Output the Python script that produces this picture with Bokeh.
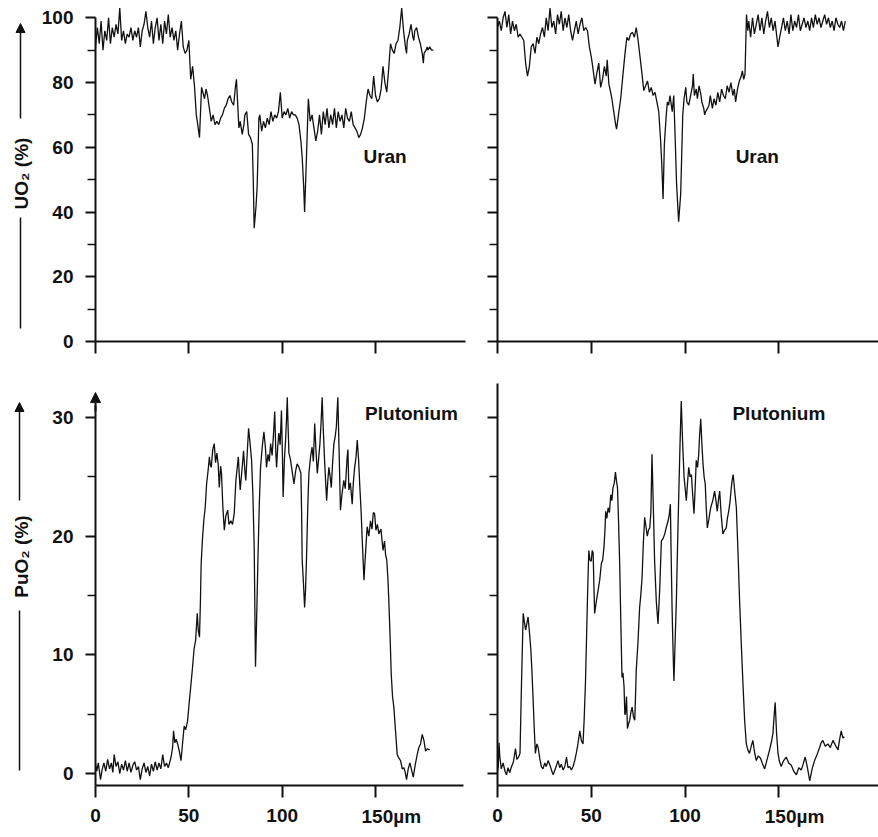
from bokeh.plotting import figure
from bokeh.layouts import gridplot
from bokeh.models import Range1d, FixedTicker, Label, Arrow, NormalHead
from bokeh.embed import file_html
from bokeh.resources import INLINE

# ---------------- data ----------------
# (position in µm, UO2 %) – upper left profile
uran_left = [
    (0, 91), (1, 97), (2, 92), (3, 99), (4, 90), (5, 96), (6, 93), (7, 100), (8, 92), (9, 97),
    (10, 94), (11, 98), (12, 95), (13, 103), (14, 93), (15, 96), (16, 92), (17, 95), (18, 94),
    (19, 97), (20, 93), (21, 96), (22, 94), (23, 97), (24, 91), (25, 96), (26, 98), (27, 102),
    (28, 97), (29, 94), (30, 99), (31, 92), (32, 97), (33, 100), (34, 93), (35, 98), (36, 92),
    (37, 99), (38, 95), (39, 101), (40, 94), (41, 97), (42, 93), (43, 96), (44, 90), (45, 95),
    (46, 99), (47, 91), (48, 89), (49, 90), (50, 93), (51, 81), (52, 85), (53, 79), (54, 70),
    (55, 66), (55.7, 63), (56.8, 78.5), (57.5, 77), (58.4, 75), (59.2, 78), (60, 76), (61, 72),
    (62, 68), (63, 70), (64, 67), (65, 68), (66, 67), (67, 69), (68, 70), (69, 72), (70, 73),
    (71, 75), (72, 76), (73, 74), (74, 73), (75, 79), (75.5, 81), (76.8, 66), (77.5, 68),
    (78.6, 64), (79.5, 67), (80, 70), (81, 71), (82, 64), (83, 63), (84, 61), (84.5, 50),
    (85, 35), (86, 42), (86.6, 48), (87.5, 69), (88, 70), (89, 65), (90, 68), (91, 66), (92, 69),
    (93, 67), (94, 71), (95, 68), (96, 70), (97, 69), (98, 71), (99, 77), (100, 69), (101, 71),
    (102, 70), (103, 72), (104, 69), (105, 71), (106, 70), (107, 70), (108, 69), (109, 67),
    (110, 62), (110.7, 57), (111.5, 48), (112, 40), (113, 57), (114, 75), (115, 68), (116, 70),
    (117, 66), (118, 62), (119, 65), (120, 70), (121, 64), (122, 71), (123, 67), (124, 72),
    (125, 66), (126, 70), (127, 67), (128, 72), (129, 66), (130, 71), (131, 68), (132, 70),
    (133, 66), (134, 72), (135, 69), (136, 68), (137, 71), (138, 67), (139, 66), (140, 65),
    (141, 63), (142, 64), (143, 66), (144, 69), (145, 74), (146, 78), (147, 76), (148, 75),
    (149, 82), (150, 76), (151, 74), (152, 75), (153, 78), (154, 85), (155, 80), (156, 77),
    (157, 84), (158, 92), (159, 90), (160, 89), (161, 92), (162, 93), (163, 97), (164, 103),
    (165, 96), (166, 91), (166.6, 89), (167, 93), (168, 95), (169, 98), (170, 94), (170.5, 93),
    (171, 96), (172, 97), (173, 94), (174, 92), (175, 89), (175.6, 86), (176, 89), (177, 90),
    (177.7, 91), (178, 90), (179, 91), (180, 90), (181, 90),
]

# (position in µm, UO2 %) – upper right profile
uran_right = [
    (0, 97), (1, 99), (2, 96), (3, 100), (4, 102), (5, 97), (6, 101), (7, 95), (8, 99), (9, 96),
    (10, 98), (11, 94), (12, 95), (13, 94), (14, 93), (15, 86), (16, 82), (17, 85), (18, 91),
    (19, 92), (20, 89), (21, 94), (22, 92), (23, 95), (24, 97), (25, 94), (26, 100), (27, 96),
    (28, 103), (29, 97), (30, 99), (31, 95), (32, 101), (33, 98), (34, 102), (35, 96), (36, 100),
    (37, 97), (38, 101), (39, 96), (40, 93), (41, 96), (42, 99), (43, 95), (44, 98), (45, 100),
    (46, 96), (47, 97), (48, 96), (49, 91), (50, 88), (51, 84), (52, 79.5), (53, 83), (54, 86),
    (55, 78.5), (56, 81), (57, 85), (58, 82), (58.5, 87), (59.4, 79.5), (60, 78), (61, 75),
    (62, 71), (63, 67), (63.5, 65.6), (64.5, 70), (65.7, 75), (67, 83), (68, 89), (69, 94),
    (70, 93), (71, 95), (72, 95.5), (73, 94), (74, 97), (75, 93), (76, 88), (77, 83), (78, 77.5),
    (79, 79), (80, 80.5), (81, 77), (82, 78.5), (83, 76), (84, 77), (85, 74), (86, 71), (87, 62),
    (87.6, 55), (88.3, 44), (89, 61), (90, 70), (90.6, 74), (91.3, 73), (92, 76), (93.2, 71),
    (94, 76), (94.8, 62), (95.5, 48.7), (96.6, 37), (97.7, 45.6), (98.8, 70), (99.5, 75),
    (100.4, 78.5), (101, 74), (102, 73), (103, 76), (104, 79), (104.4, 82.6), (105, 76),
    (106, 78), (106.6, 75), (107.5, 79), (108.4, 76.5), (109, 74), (110, 72), (110.5, 70),
    (111, 71), (112, 72), (112.8, 73), (113.5, 76), (114.6, 72), (115.5, 75), (116.5, 73),
    (117.5, 77), (118.5, 74), (119.5, 78), (120.5, 76), (121.5, 75), (122.5, 79), (123.5, 77),
    (124.5, 80), (125.5, 76), (126.3, 78), (127, 74), (128, 78), (129, 80.5), (130, 82),
    (130.6, 83.6), (131.3, 81), (132, 82.6), (132.8, 101), (133.5, 96), (134, 99), (135, 94),
    (136, 100), (137, 95), (138, 98), (139, 101), (140, 96), (141, 100), (142, 95), (143, 99),
    (144, 102), (145, 97), (146, 100), (147, 96), (148, 99), (149, 94), (149.6, 91), (150.5, 94),
    (151.5, 97), (152.5, 100), (153.5, 96), (154.5, 99), (155.5, 95), (156.5, 101), (157.5, 96),
    (158.5, 99), (159.5, 97), (160.5, 101), (161.5, 96), (162.5, 98), (163.5, 100), (164.5, 97),
    (165.5, 99), (166.5, 96), (167.5, 100), (168.5, 97), (169.5, 101), (170.5, 98), (171.5, 100),
    (172.5, 97), (173.5, 99), (174.5, 101), (175.5, 98), (176.5, 100), (177.5, 97), (178.5, 99),
    (179.5, 96), (180.5, 100), (181.5, 98), (182.5, 97), (183.5, 99), (184.5, 96), (185.5, 99),
]

# (position in µm, PuO2 %) – lower left profile
pluto_left = [
    (0, 0.8), (0.7, 0.2), (1.5, 0.9), (2.7, -0.5), (3.5, 0.3), (4.5, 0.9), (5.5, 0.2), (6.5, 1.2),
    (7.5, 0.4), (8.5, 0.9), (9.3, 0.1), (10, 1.6), (11, 0.6), (12, 1.0), (13, 0.0), (14, 0.8),
    (15, 0.3), (16, 1.1), (17, 0.2), (18, 0.9), (19, 0.1), (20, 0.7), (21, 1.0), (22, 0.3),
    (23, 0.6), (24, -0.5), (25, 0.4), (26, 0.9), (27, 0.1), (28, 0.6), (29, -0.2), (30, 0.8),
    (31, 0.2), (32, 1.0), (33, 0.3), (34, 0.9), (35, 0.4), (36, 1.6), (37, 0.6), (38, 0.9),
    (39, 0.5), (39.5, 0.8), (40.5, 1.4), (41.3, 2.2), (41.8, 3.6), (42.5, 2.6), (43.2, 2.9),
    (44, 2.5), (45, 1.8), (45.8, 1.1), (46.6, 2.5), (47.5, 4.0), (48.3, 3.7), (49.3, 4.4),
    (50.2, 6.0), (51, 7.3), (52, 9.0), (52.8, 10.5), (53.6, 11.2), (54.5, 13.5), (55.1, 12.0),
    (55.7, 11.5), (56.2, 14.5), (56.6, 17.7), (57.3, 19.8), (58, 21.3), (58.8, 22.5), (59.5, 24.4),
    (60.3, 25.5), (61, 26.7), (61.5, 26.0), (62, 25.8), (62.8, 27.3), (63.6, 27.8), (64.3, 26.2),
    (65, 27.0), (65.7, 26.1), (66.3, 24.1), (67, 25.9), (67.5, 25.3), (68.2, 22.5), (69, 20.5),
    (69.8, 21.7), (70.8, 22.2), (71.5, 21.0), (72.5, 21.3), (73.4, 21.0), (74.3, 21.9),
    (75.2, 24.7), (75.8, 25.6), (76.5, 26.7), (77, 25.2), (77.5, 23.9), (78.4, 25.5), (79.3, 27.2),
    (80, 25.5), (80.5, 24.7), (81.2, 26.8), (82, 29.1), (82.8, 27.8), (83.6, 26.4), (84.3, 23.5),
    (85, 19.1), (85.7, 9.0), (86.3, 13.0), (87, 18.0), (87.7, 22.5), (88.4, 25.8), (89.3, 27.5),
    (90.2, 28.8), (91, 27.5), (91.6, 25.8), (92.4, 26.9), (93.1, 26.3), (93.8, 27.8), (94.6, 26.8),
    (95.3, 28.5), (96, 30.5), (96.6, 27.0), (97, 25.8), (97.6, 27.5), (98.2, 28.7), (98.9, 27.7),
    (99.6, 30.6), (100.1, 27.0), (100.5, 23.3), (101.2, 26.5), (101.8, 28.1), (102.3, 29.8),
    (102.7, 31.7), (103.2, 29.0), (103.6, 27.0), (104.4, 26.5), (105.3, 25.5), (106.3, 24.4),
    (107.2, 25.5), (108, 26.1), (109, 25.8), (110, 25.3), (110.4, 22.0), (110.7, 18.0),
    (111.4, 16.0), (112, 14.0), (112.5, 15.5), (113, 18.0), (113.7, 22.5), (114.3, 25.3),
    (115.2, 26.7), (116, 27.5), (116.7, 26.3), (117.4, 29.5), (118.1, 27.2), (118.8, 25.3),
    (119.5, 26.5), (120.2, 27.8), (120.8, 29.5), (121.4, 31.7), (122, 29.0), (122.7, 26.4),
    (123.3, 24.5), (123.8, 23.0), (124.4, 24.6), (125, 25.8), (125.7, 25.0), (126.3, 24.1),
    (127, 26.2), (127.7, 27.8), (128.3, 28.3), (129, 29.2), (129.4, 30.5), (129.8, 31.7),
    (130.5, 27.0), (131.2, 22.2), (132, 23.5), (133, 24.7), (133.8, 24.0), (134.8, 26.7),
    (135.2, 27.3), (135.7, 23.9), (136.5, 24.5), (137.5, 22.7), (138.1, 24.5), (138.8, 25.8),
    (139.5, 26.6), (140.2, 28.1), (140.9, 26.5), (141.6, 24.1), (142.3, 22.0), (142.9, 19.6),
    (143.8, 16.3), (144.6, 18.5), (145.5, 20.8), (146.4, 20.0), (147.3, 21.3), (148.1, 20.6),
    (148.8, 22.0), (149.5, 21.9), (150.2, 20.5), (151, 21.0), (151.8, 20.2), (152.9, 20.6),
    (154, 18.8), (154.8, 19.6), (155.4, 18.4), (156, 18.0), (156.6, 16.5), (157.1, 14.6),
    (157.8, 11.5), (158.4, 8.4), (159.1, 6.5), (159.8, 5.6), (160.7, 3.6), (161.6, 1.6),
    (162.5, 1.3), (163.4, 1.1), (164.3, 0.4), (165.2, 0.5), (165.9, 0.1), (166.6, -0.5),
    (167.5, 0.4), (168.4, 0.9), (169.3, 0.3), (170.2, -0.3), (171.2, 0.7), (172.3, 1.6),
    (173.2, 2.2), (174.1, 2.5), (175, 3.3), (175.9, 2.8), (176.8, 1.9), (177.8, 2.1), (179, 2.0),
]

# (position in µm, PuO2 %) – lower right profile
pluto_right = [
    (0, 0.2), (0.4, 0.6), (0.8, 2.6), (1.2, 1.5), (2, 0.4), (3, 0.9), (4, 0.2), (4.8, -0.1),
    (5.6, 0.5), (6.5, 0.1), (7.5, 0.6), (8.5, 1.0), (9.6, 2.1), (10.3, 1.2), (11.2, 1.4),
    (12, 1.7), (12.8, 7.6), (13.7, 13.5), (14.3, 12.8), (15, 12.1), (15.6, 12.6), (16.3, 13.2),
    (17, 12.0), (17.8, 10.4), (18.4, 8.5), (19, 6.2), (19.6, 3.8), (20.2, 1.7), (21, 2.5),
    (21.7, 2.2), (22.5, 1.3), (23.4, 0.6), (24.3, 0.4), (25.2, 0.9), (26, 0.6), (27, 1.1),
    (28, 0.7), (29, 0.2), (29.7, -0.1), (30.6, 0.3), (31.5, 0.7), (32.3, 1.1), (33.2, 0.5),
    (34, 0.8), (35, 0.3), (35.9, 0.6), (36.8, 1.4), (37.6, 0.5), (38.5, 0.6), (39.4, 0.3),
    (40.3, 0.6), (41.2, 1.1), (42, 1.7), (42.8, 2.4), (43.9, 3.6), (44.7, 2.8), (45.6, 2.5),
    (46.2, 4.5), (46.9, 7.6), (47.5, 11.5), (48.1, 15.5), (48.7, 18.8), (49.3, 18.0), (50, 17.9),
    (50.5, 18.8), (51, 18.6), (51.4, 16.0), (51.8, 13.5), (52.7, 14.5), (53.6, 15.4), (54.5, 16.3),
    (55.4, 17.7), (56.1, 18.0), (56.8, 19.1), (57.3, 20.5), (57.7, 22.1), (58.3, 21.5), (59, 22.4),
    (59.7, 22.0), (60.4, 23.5), (61, 23.0), (61.6, 24.1), (62.3, 24.5), (62.9, 25.4), (63.5, 24.6),
    (64, 24.1), (64.6, 21.0), (65.2, 17.4), (65.8, 12.5), (66.4, 8.1), (66.9, 8.5), (67.5, 7.3),
    (67.9, 5.0), (68.2, 5.0), (68.8, 6.5), (69.3, 3.8), (69.9, 4.2), (70.5, 4.5), (71.2, 5.2),
    (71.8, 5.6), (72.5, 4.8), (73.2, 4.5), (73.6, 6.5), (74, 8.7), (74.9, 11.0), (75.8, 14.0),
    (76.4, 15.0), (77.1, 16.5), (77.8, 19.5), (78.5, 21.6), (79.2, 20.8), (79.9, 20.0),
    (80.5, 20.5), (81.2, 20.7), (81.8, 22.0), (82.4, 26.9), (83.1, 22.5), (83.8, 17.9),
    (84.7, 14.5), (85.6, 12.6), (86.5, 15.5), (87.4, 19.6), (88.3, 19.8), (89.2, 20.2),
    (90.1, 20.8), (91, 21.3), (91.6, 21.8), (92.2, 22.7), (92.6, 18.5), (93.1, 14.0), (93.6, 10.5),
    (94.1, 7.8), (94.7, 11.0), (95.4, 14.6), (96, 19.0), (96.6, 23.0), (97.3, 27.5), (98, 31.4),
    (98.7, 28.0), (99.5, 25.0), (100.1, 24.0), (100.7, 23.0), (101.4, 24.6), (102, 25.8),
    (102.7, 25.0), (103.4, 25.2), (104.1, 23.5), (104.8, 21.9), (105.4, 24.0), (106, 26.4),
    (106.7, 25.8), (107.3, 26.9), (107.8, 28.5), (108.4, 29.9), (109, 27.8), (109.6, 26.1),
    (110.2, 25.0), (110.8, 24.4), (111.3, 22.5), (111.9, 20.7), (112.8, 21.5), (113.7, 22.4),
    (114.8, 23.0), (115.8, 23.8), (116.5, 23.0), (117.2, 22.1), (117.8, 23.0), (118.5, 23.8),
    (119.3, 21.8), (120.2, 20.2), (121.1, 20.5), (122, 20.7), (122.6, 21.5), (123.3, 22.1),
    (124, 22.9), (124.7, 24.1), (125.2, 24.8), (125.7, 25.2), (126.5, 23.8), (127.4, 22.4),
    (128.3, 18.5), (129.1, 14.6), (130, 11.0), (130.9, 7.6), (131.8, 4.5), (132.7, 2.5),
    (133.5, 2.0), (134.4, 1.7), (135.3, 2.3), (136.2, 2.8), (137.1, 1.8), (138, 1.1), (139.1, 1.5),
    (140.3, 1.3), (141.4, 0.8), (142.5, 0.4), (143.8, 1.2), (145.1, 2.0), (146, 2.6), (146.9, 3.4),
    (147.5, 4.8), (148.1, 6.0), (148.8, 3.5), (149.6, 1.7), (150.4, 1.0), (151.3, 0.6),
    (152.6, 1.1), (154, 1.4), (155.3, 0.9), (156.7, 0.7), (158, 0.2), (159.4, -0.1), (160.7, 0.5),
    (162, 0.3), (163, 0.8), (164.1, 1.4), (165.3, 0.5), (166.5, -0.6), (167.8, 0.4), (169.1, 1.1),
    (170.4, 1.6), (171.8, 2.2), (172.6, 2.6), (173.5, 2.8), (174.8, 2.3), (176.2, 2.5),
    (177.5, 2.2), (178.9, 2.8), (180.2, 2.4), (181.6, 2.0), (182.5, 2.9), (183.3, 3.6),
    (184.2, 3.0), (185, 3.1),
]

x_ticks = [0, 50, 100, 150]
x_tick_labels = {0: "0", 50: "50", 100: "100", 150: ""}
last_tick_label = "150µm"
uo2_ticks = [0, 20, 40, 60, 80, 100]
uo2_minor = [10, 30, 50, 70, 90]
puo2_ticks = [0, 10, 20, 30]
puo2_minor = [5, 15, 25]
uo2_title = "UO₂ (%)"
puo2_title = "PuO₂ (%)"
uran_text = "Uran"
pluto_text = "Plutonium"

# ---------------- layout / style ----------------
FONT = "Liberation Sans"
INK = "#111111"


def make_panel(w, h, axis_px, px_per_um, y_lo, y_hi):
    p = figure(
        width=w, height=h, output_backend="svg", toolbar_location=None, tools="",
        x_range=Range1d(-axis_px / px_per_um, (w - axis_px) / px_per_um),
        y_range=Range1d(y_lo, y_hi),
        min_border_left=0, min_border_right=0, min_border_top=0, min_border_bottom=0,
    )
    p.grid.visible = False
    p.outline_line_color = None
    p.background_fill_color = "white"
    p.border_fill_color = "white"
    return p


def style_axes(p, yt, show_ylabels, show_xlabels, ybounds, xbounds, x_loc):
    ya = p.yaxis[0]
    ya.fixed_location = 0
    ya.ticker = FixedTicker(ticks=yt[0], minor_ticks=yt[1])
    ya.bounds = ybounds
    ya.axis_line_width = 2
    ya.axis_line_color = INK
    ya.major_tick_line_width = 2
    ya.major_tick_line_color = INK
    ya.minor_tick_line_width = 1.5
    ya.minor_tick_line_color = INK
    ya.major_tick_out = 10
    ya.major_tick_in = 0
    ya.minor_tick_out = 8
    ya.minor_tick_in = 0
    ya.major_label_text_font = FONT
    ya.major_label_text_font_style = "bold"
    ya.major_label_text_font_size = "19px"
    ya.major_label_text_color = INK
    ya.major_label_standoff = 12
    if not show_ylabels:
        ya.major_label_overrides = {t: "" for t in yt[0]}

    xa = p.xaxis[0]
    xa.fixed_location = x_loc
    xa.ticker = FixedTicker(ticks=x_ticks, minor_ticks=[])
    xa.bounds = xbounds
    xa.axis_line_width = 2
    xa.axis_line_color = INK
    xa.major_tick_line_width = 2
    xa.major_tick_line_color = INK
    xa.major_tick_out = 12
    xa.major_tick_in = 0
    xa.major_label_text_font = FONT
    xa.major_label_text_font_style = "bold"
    xa.major_label_text_font_size = "19px"
    xa.major_label_text_color = INK
    xa.major_label_standoff = 11
    if show_xlabels:
        xa.major_label_overrides = dict(x_tick_labels)
        # "150µm": the number sits centred on its tick, the unit trails it
        p.add_layout(Label(x=x_ticks[-1], y=x_loc, text=last_tick_label,
                           x_offset=-14, y_offset=-20, text_font=FONT, text_font_style="bold",
                           text_font_size="19px", text_color=INK,
                           text_align="left", text_baseline="top"))
    else:
        xa.major_label_standoff = 0
        xa.major_label_overrides = {t: "" for t in x_ticks}


def add_text(p, x, y, txt):
    p.add_layout(Label(x=x, y=y, text=txt, text_font=FONT, text_font_style="bold",
                       text_font_size="19px", text_color=INK,
                       text_align="left", text_baseline="middle"))


def add_ytitle(p, tx, ty, txt, arrow_x, up_from, up_to, low_from, low_to):
    p.add_layout(Label(x=tx, y=ty, text=txt, angle=90, angle_units="deg",
                       text_font=FONT, text_font_style="bold", text_font_size="19px",
                       text_color=INK, text_align="center", text_baseline="middle"))
    p.add_layout(Arrow(end=NormalHead(size=9, fill_color=INK, line_color=INK, line_width=1),
                       x_start=arrow_x, y_start=up_from, x_end=arrow_x, y_end=up_to,
                       line_width=1.5, line_color=INK))
    p.add_layout(Arrow(start=None, end=None, x_start=arrow_x, y_start=low_from,
                       x_end=arrow_x, y_end=low_to, line_width=1.5, line_color=INK))


SX_L, SX_R = 1.867, 1.875
SY_TOP, SY_BOT = 3.237, 11.87
TOP_H, BOT_H = 375, 462
TOP_ZERO = 341              # pixel row of UO2 = 0 in the upper panels
BOT_AXIS = 410              # pixel row of the lower x axis (PuO2 = -1)
LEFT_W, RIGHT_W = 480, 398
AX_L, AX_R = 95, 17
LW = 1.3


def split(series):
    return [a for a, _ in series], [b for _, b in series]


top_lo = -(TOP_H - TOP_ZERO) / SY_TOP
top_hi = TOP_ZERO / SY_TOP

# upper left
p1 = make_panel(LEFT_W, TOP_H, AX_L, SX_L, top_lo, top_hi)
style_axes(p1, (uo2_ticks, uo2_minor), True, False, (0, 100),
           (0, (LEFT_W - 15 - AX_L) / SX_L), 0)
x, y = split(uran_left)
p1.line(x, y, line_color=INK, line_width=LW)
add_text(p1, 143.5, 57, uran_text)
add_ytitle(p1, (21 - AX_L) / SX_L, (TOP_ZERO - 173) / SY_TOP, uo2_title,
           (20 - AX_L) / SX_L, (TOP_ZERO - 118) / SY_TOP, (TOP_ZERO - 23) / SY_TOP,
           (TOP_ZERO - 217) / SY_TOP, (TOP_ZERO - 328) / SY_TOP)

# upper right
p2 = make_panel(RIGHT_W, TOP_H, AX_R, SX_R, top_lo, top_hi)
style_axes(p2, (uo2_ticks, uo2_minor), False, False, (0, 100),
           (0, (RIGHT_W - AX_R) / SX_R), 0)
x, y = split(uran_right)
p2.line(x, y, line_color=INK, line_width=LW)
add_text(p2, 127, 57, uran_text)

# lower panels: value -1 sits on the x axis
Y0 = -1.0
bot_lo = Y0 - (BOT_H - BOT_AXIS) / SY_BOT
bot_hi = Y0 + BOT_AXIS / SY_BOT

# lower left
p3 = make_panel(LEFT_W, BOT_H, AX_L, SX_L, bot_lo, bot_hi)
style_axes(p3, (puo2_ticks, puo2_minor), True, True, (Y0, 31),
           (0, (LEFT_W - 17 - AX_L) / SX_L), Y0)
x, y = split(pluto_left)
p3.line(x, y, line_color=INK, line_width=LW)
add_text(p3, 144.4, 30.3, pluto_text)
p3.add_layout(Arrow(end=NormalHead(size=10, fill_color=INK, line_color=INK, line_width=1),
                    x_start=0, y_start=30.5, x_end=0, y_end=32.1, line_width=2, line_color=INK))
ZERO_PX = 773.1 - TOP_H  # local pixel row of value 0 in the lower panels
add_ytitle(p3, (21 - AX_L) / SX_L, (ZERO_PX - (556 - TOP_H)) / SY_BOT, puo2_title,
           (19 - AX_L) / SX_L, (ZERO_PX - (500 - TOP_H)) / SY_BOT, (ZERO_PX - (402 - TOP_H)) / SY_BOT,
           (ZERO_PX - (610 - TOP_H)) / SY_BOT, (ZERO_PX - (770 - TOP_H)) / SY_BOT)

# lower right
p4 = make_panel(RIGHT_W, BOT_H, AX_R, SX_R, bot_lo, bot_hi)
style_axes(p4, (puo2_ticks, puo2_minor), False, True, (Y0, 32.9),
           (0, (RIGHT_W - AX_R) / SX_R), Y0)
x, y = split(pluto_right)
p4.line(x, y, line_color=INK, line_width=LW)
add_text(p4, 125.3, 30.3, pluto_text)

grid = gridplot([[p1, p2], [p3, p4]], toolbar_location=None)

open("out.html", "w").write(file_html(grid, INLINE))
